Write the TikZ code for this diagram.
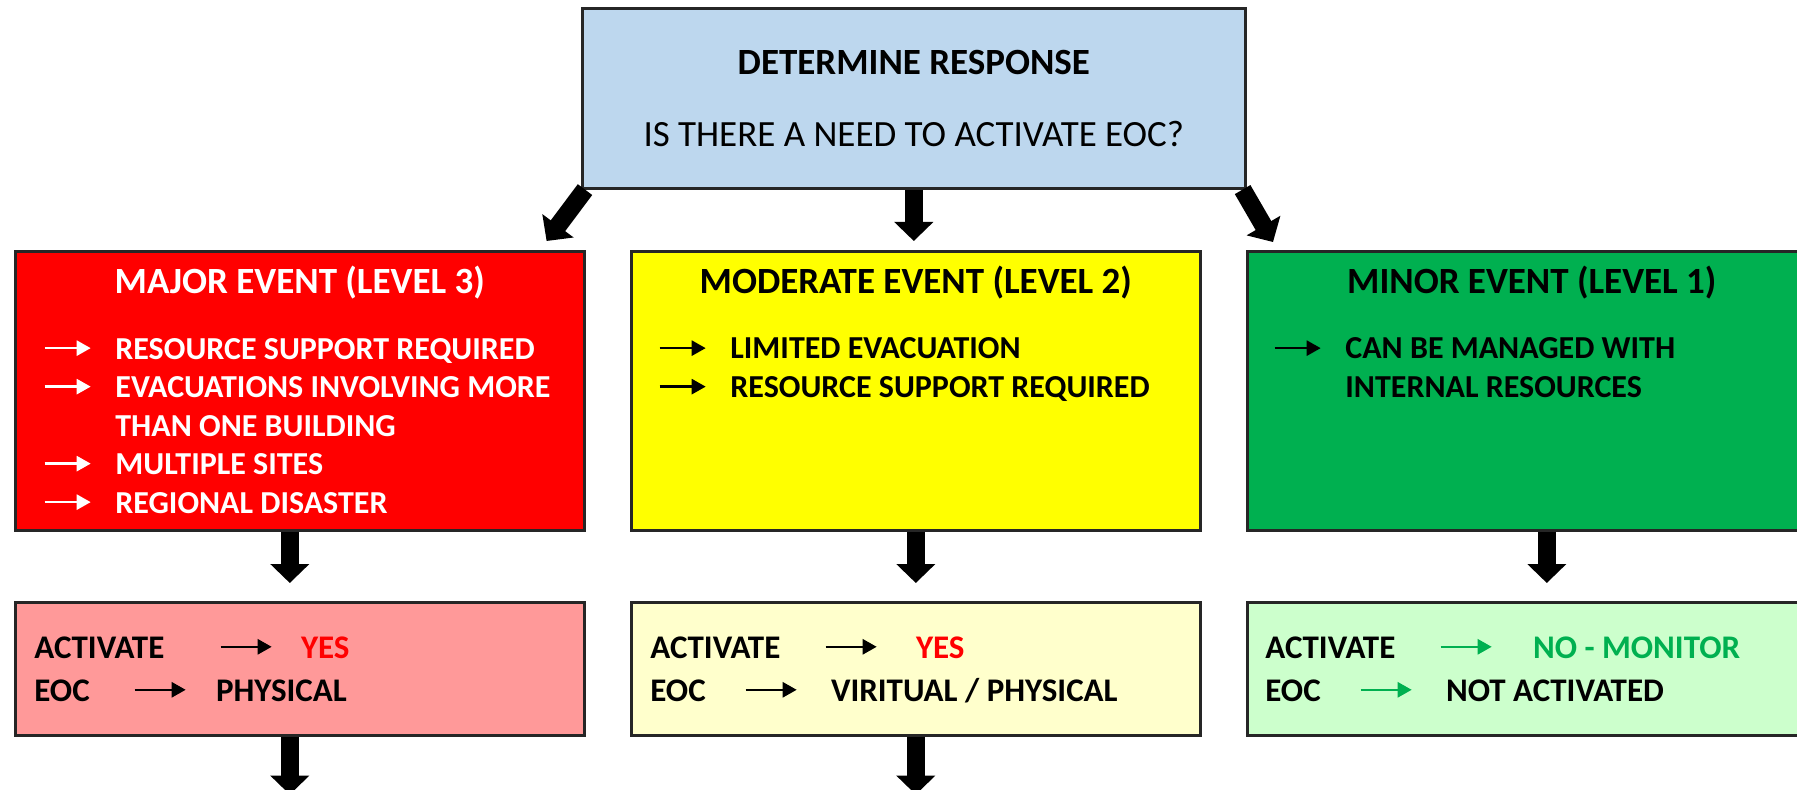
\documentclass[tikz,border=0pt]{standalone}
\usepackage{fontspec}
\setmainfont{Carlito}
\usetikzlibrary{positioning,arrows.meta}
\definecolor{askblue}{HTML}{BDD7EE}
\definecolor{majred}{HTML}{FF0000}
\definecolor{majpink}{HTML}{FF9999}
\definecolor{modyel}{HTML}{FFFF00}
\definecolor{modcream}{HTML}{FFFFCC}
\definecolor{mingreen}{HTML}{00B050}
\definecolor{minmint}{HTML}{CCFFCC}
\newcommand{\harr}[2][black]{\tikz[baseline=-0.7ex]\draw[#1, line width=1.3pt, -{Triangle[length=7pt,width=7.5pt]}] (0pt,0pt) -- (#2,0pt);}
\newcommand{\bul}[1][black]{\makebox[36pt][l]{\harr[#1]{23pt}}}
\begin{document}
\begin{tikzpicture}[x=0.5pt, y=-0.5pt,
    B/.style={draw=black!85, line width=1.3pt, inner sep=0pt, anchor=north west},
    E/.style={B, minimum width=284.5pt, minimum height=139.5pt},
    S/.style={B, minimum width=284.5pt, minimum height=66.5pt},
    H/.style={anchor=base, inner sep=0pt, font=\bfseries\fontsize{18.5}{22}\selectfont},
    L/.style={anchor=base west, align=left, inner sep=0pt, font=\bfseries\fontsize{16}{19.25}\selectfont},
    R/.style={anchor=base west, align=left, inner sep=0pt, font=\bfseries\fontsize{16.5}{21.5}\selectfont},
    A/.style={line width=9pt, -{Triangle[length=9.5pt,width=19pt]}}
  ]
  \clip (0,0) rectangle (1797,790);
  \node[B, fill=askblue, minimum width=331.5pt, minimum height=90pt] (ask) at (581,7) {};
  \node[H] (askhead) at (ask.center |- 0,75) {DETERMINE RESPONSE};
  \node[H, font=\fontsize{18.5}{22}\selectfont] (askq) at (ask.center |- 0,147) {IS THERE A NEED TO ACTIVATE EOC?};

  \node[E, fill=majred] (major) at (14,250) {};
  \node[E, fill=modyel] (moderate) at (630,250) {};
  \node[E, fill=mingreen] (minor) at (1246,250) {};
  \node[H, text=white] (majorhead) at (major.center |- 0,294) {MAJOR EVENT (LEVEL 3)};
  \node[H] (moderatehead) at (moderate.center |- 0,294) {MODERATE EVENT (LEVEL 2)};
  \node[H] (minorhead) at (minor.center |- 0,294) {MINOR EVENT (LEVEL 1)};
  % base of a list is its last line
  \node[L, text=white] (majorlist) at (43,513) {\bul[white]RESOURCE SUPPORT REQUIRED\\
      \bul[white]EVACUATIONS INVOLVING MORE\\
      \hspace*{36pt}THAN ONE BUILDING\\
      \bul[white]MULTIPLE SITES\\
      \bul[white]REGIONAL DISASTER};
  \node[L] (moderatelist) at (658,397.5) {\bul LIMITED EVACUATION\\
      \bul RESOURCE SUPPORT REQUIRED};
  \node[L] (minorlist) at (1273,397.5) {\bul CAN BE MANAGED WITH\\
      \hspace*{36pt}INTERNAL RESOURCES};

  \node[S, fill=majpink] (majact) at (14,601) {};
  \node[S, fill=modcream] (modact) at (630,601) {};
  \node[S, fill=minmint] (minact) at (1246,601) {};
  \node[R] (majacttext) at (34,701) {\makebox[92.5pt][l]{ACTIVATE}\harr{25.5pt}\hspace{14pt}\textcolor{majred}{YES}\\
      \makebox[49.5pt][l]{EOC}\harr{25.5pt}\hspace{14.5pt}PHYSICAL};
  \node[R] (modacttext) at (650,701) {\makebox[87pt][l]{ACTIVATE}\harr{25.5pt}\hspace{19pt}\textcolor{majred}{YES}\\
      \makebox[47pt][l]{EOC}\harr{25.5pt}\hspace{16.5pt}VIRITUAL / PHYSICAL};
  \node[R] (minacttext) at (1265,701) {\makebox[87pt][l]{ACTIVATE}\harr[mingreen]{25.5pt}\hspace{20pt}\textcolor{mingreen}{NO - MONITOR}\\
      \makebox[47pt][l]{EOC}\harr[mingreen]{25.5pt}\hspace{16.5pt}NOT ACTIVATED};

  \coordinate (majout) at ([xshift=-5pt,yshift=-29pt]majact.south);
  \coordinate (modout) at ([yshift=-29pt]modact.south);

  \draw[A] ([xshift=2pt]ask.south west) -- ([xshift=-19.5pt,yshift=4.5pt]major.north east);
  \draw[A, shorten >=4.5pt] (ask.south) -- (ask.south |- moderate.north);
  \draw[A] ([xshift=-2pt]ask.south east) -- ([xshift=13.5pt,yshift=4pt]minor.north west);
  \draw[A, shorten >=9pt] ([xshift=-5pt]major.south) -- ([xshift=-5pt]majact.north);
  \draw[A, shorten >=9pt] (moderate.south) -- (modact.north);
  \draw[A, shorten >=9pt] ([xshift=7.5pt]minor.south) -- ([xshift=7.5pt]minact.north);
  \draw[A] ([xshift=-5pt]majact.south) -- (majout);
  \draw[A] (modact.south) -- (modout);
\end{tikzpicture}
\end{document}
